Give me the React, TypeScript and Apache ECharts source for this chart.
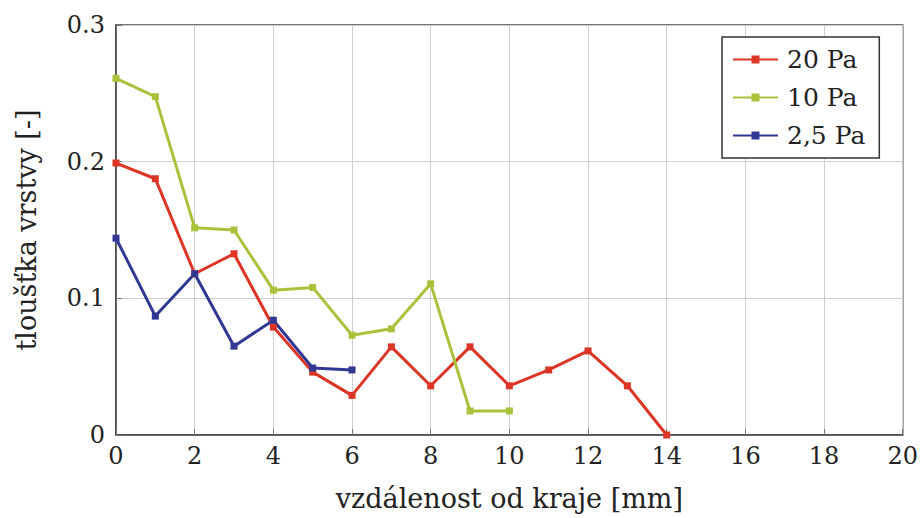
import React, { useEffect, useRef } from "react";
import * as echarts from "echarts";

const xValues = [0, 1, 2, 3, 4, 5, 6, 7, 8, 9, 10, 11, 12, 13, 14];
const pa20 = [0.199, 0.1875, 0.118, 0.1326, 0.079, 0.046, 0.029, 0.0645, 0.036, 0.0645, 0.036, 0.0476, 0.0615, 0.036, 0.0];
const pa10 = [0.261, 0.2476, 0.1516, 0.15, 0.106, 0.108, 0.073, 0.0777, 0.1106, 0.0176, 0.0176];
const pa25 = [0.144, 0.087, 0.118, 0.065, 0.084, 0.049, 0.0476];
const seriesNames = ["20 Pa", "10 Pa", "2,5 Pa"];
const colors = ["#dc3526", "#a9c23c", "#313894"];

const FONT = "DejaVu Serif";

export default function App() {
  const ref = useRef<HTMLDivElement>(null);
  useEffect(() => {
    if (!ref.current) return;
    const chart = echarts.init(ref.current, null, { renderer: "svg" });
    const mk = (name: string, vals: number[], color: string) => ({
      name,
      type: "line",
      data: vals.map((v, i) => [xValues[i], v]),
      symbol: "rect",
      symbolSize: 7,
      lineStyle: { color, width: 3 },
      itemStyle: { color },
      z: 3,
    });
    chart.setOption({
      animation: false,
      backgroundColor: "#fff",
      textStyle: { fontFamily: FONT },
      grid: {
        left: 116,
        right: 16,
        top: 25,
        bottom: 83,
        show: true,
        borderColor: "#444",
        borderWidth: 1.5,
        backgroundColor: "transparent",
      },
      legend: {
        orient: "vertical",
        left: 722,
        top: 37,
        padding: [10, 14, 10, 10],
        itemWidth: 45,
        itemHeight: 10,
        itemGap: 13,
        backgroundColor: "#fff",
        borderColor: "#333",
        borderWidth: 1.5,
        borderRadius: 0,
        textStyle: { fontFamily: FONT, fontSize: 25, color: "#222", padding: [0, 0, 0, 4] },
        data: seriesNames,
      },
      xAxis: {
        type: "value",
        min: 0,
        max: 20,
        interval: 2,
        name: "vzdálenost od kraje [mm]",
        nameLocation: "middle",
        nameGap: 50,
        nameTextStyle: { fontFamily: FONT, fontSize: 27, color: "#222" },
        axisLine: { show: true, lineStyle: { color: "#444", width: 1.5 } },
        axisTick: { show: true, inside: true, length: 6, lineStyle: { color: "#777" } },
        axisLabel: { fontFamily: FONT, fontSize: 24, color: "#222", margin: 9 },
        splitLine: { show: true, lineStyle: { color: "#cfcfcf", width: 1 } },
      },
      yAxis: {
        type: "value",
        min: 0,
        max: 0.3,
        interval: 0.1,
        name: "tloušťka vrstvy [-]",
        nameLocation: "middle",
        nameGap: 76,
        nameTextStyle: { fontFamily: FONT, fontSize: 27, color: "#222" },
        axisLine: { show: true, lineStyle: { color: "#444", width: 1.5 } },
        axisTick: { show: true, inside: true, length: 6, lineStyle: { color: "#777" } },
        axisLabel: {
          fontFamily: FONT,
          fontSize: 24,
          color: "#222",
          margin: 11,
          formatter: (v: number) => (v === 0 ? "0" : v.toFixed(1)),
        },
        splitLine: { show: true, lineStyle: { color: "#cfcfcf", width: 1 } },
      },
      series: [mk(seriesNames[0], pa20, colors[0]), mk(seriesNames[1], pa10, colors[1]), mk(seriesNames[2], pa25, colors[2])],
    });
    return () => chart.dispose();
  }, []);
  return <div ref={ref} style={{ width: 921, height: 518, position: "absolute", left: 0, top: 0 }} />;
}
